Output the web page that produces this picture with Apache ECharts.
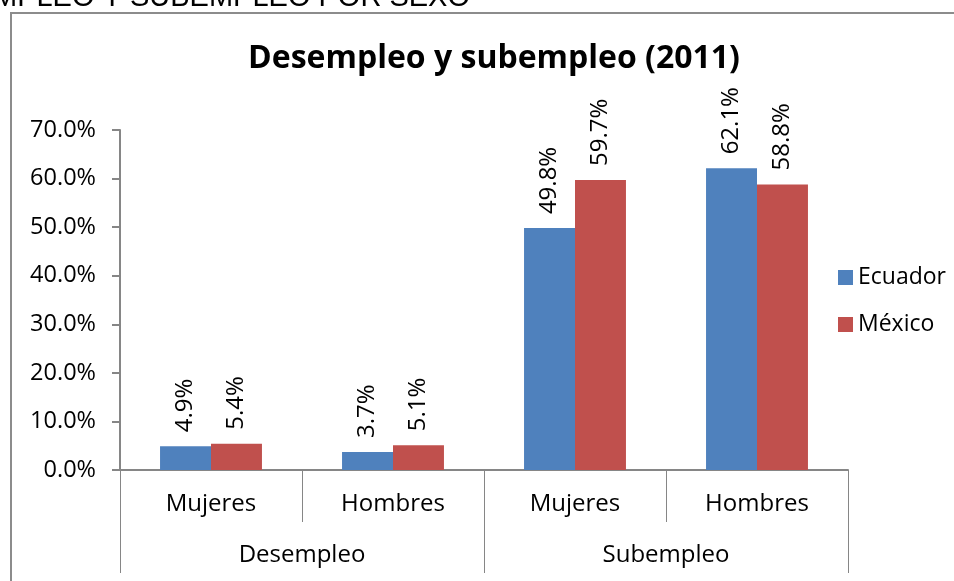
<!DOCTYPE html>
<html>
<head>
<meta charset="utf-8">
<script src="https://cdn.jsdelivr.net/npm/echarts@6/dist/echarts.min.js"></script>
<style>
  html, body { margin: 0; padding: 0; background: #fff; }
  #main { position: absolute; left: 0; top: 0; width: 954px; height: 581px; }
  #frame { position: absolute; left: 10px; top: 12px; width: 960px; height: 600px;
           border: 2px solid #8c8c8c; box-sizing: border-box; }
</style>
</head>
<body>
<div id="frame"></div>
<div id="main"></div>
<script>
  // datos
  var sexos = ['Mujeres', 'Hombres', 'Mujeres', 'Hombres']
  var grupos = ['Desempleo', 'Subempleo']
  var ecuador = [4.9, 3.7, 49.8, 62.1]
  var mexico = [5.4, 5.1, 59.7, 58.8]
  var yTicks = [0, 10, 20, 30, 40, 50, 60, 70]

  var myChart = echarts.init(document.getElementById('main'))
  var fuente = 'Open Sans'
  var gris = '#868686'

  var etiqueta = {
    show: true,
    position: 'top',
    rotate: 90,
    align: 'left',
    verticalAlign: 'middle',
    distance: 14,
    fontFamily: fuente,
    fontSize: 24,
    color: '#000',
    formatter: function (p) {
      return p.value.toFixed(1) + '%'
    },
  }

  var option = {
    animation: false,
    title: [
      {
        text: 'Desempleo y subempleo (2011)',
        left: 489,
        textAlign: 'center',
        top: 38,
        textStyle: { fontFamily: fuente, fontSize: 32, fontWeight: 'bold', color: '#000' },
      },
      {
        text: 'DESEMPLEO Y SUBEMPLEO POR SEXO',
        right: 479,
        top: -22,
        textStyle: { fontFamily: 'Liberation Sans', fontSize: 29, fontWeight: 'normal', color: '#000' },
      },
    ],
    legend: {
      orient: 'vertical',
      left: 833,
      top: 261,
      itemWidth: 15,
      itemHeight: 15,
      itemGap: 24,
      icon: 'rect',
      textStyle: { fontFamily: fuente, fontSize: 23, color: '#000' },
      data: ['Ecuador', 'México'],
    },
    grid: { left: 120, right: 106, top: 130, bottom: 111 },
    xAxis: [
      {
        type: 'category',
        data: sexos,
        axisLine: { lineStyle: { color: gris, width: 2 } },
        axisTick: { show: true, length: 52, interval: 0, lineStyle: { color: gris, width: 1 } },
        axisLabel: { margin: 22, fontFamily: fuente, fontSize: 24, color: '#000' },
      },
      {
        type: 'category',
        data: grupos,
        position: 'bottom',
        axisLine: { show: false },
        axisTick: { show: true, length: 103, interval: 0, lineStyle: { color: gris, width: 1 } },
        axisLabel: { margin: 73, fontFamily: fuente, fontSize: 24, color: '#000' },
      },
    ],
    yAxis: {
      type: 'value',
      min: yTicks[0],
      max: yTicks[yTicks.length - 1],
      interval: 10,
      splitLine: { show: false },
      axisLine: { show: true, lineStyle: { color: gris, width: 2 } },
      axisTick: { show: true, length: 8, lineStyle: { color: gris, width: 2 } },
      axisLabel: {
        margin: 24,
        fontFamily: fuente,
        fontSize: 23.5,
        color: '#000',
        formatter: function (v) {
          return v.toFixed(1) + '%'
        },
      },
    },
    series: [
      {
        name: 'Ecuador',
        type: 'bar',
        data: ecuador,
        barGap: '0%',
        barCategoryGap: '44%',
        itemStyle: { color: '#4F81BD' },
        label: etiqueta,
      },
      {
        name: 'México',
        type: 'bar',
        data: mexico,
        itemStyle: { color: '#C0504D' },
        label: etiqueta,
      },
    ],
  }

  myChart.setOption(option)
</script>
</body>
</html>
